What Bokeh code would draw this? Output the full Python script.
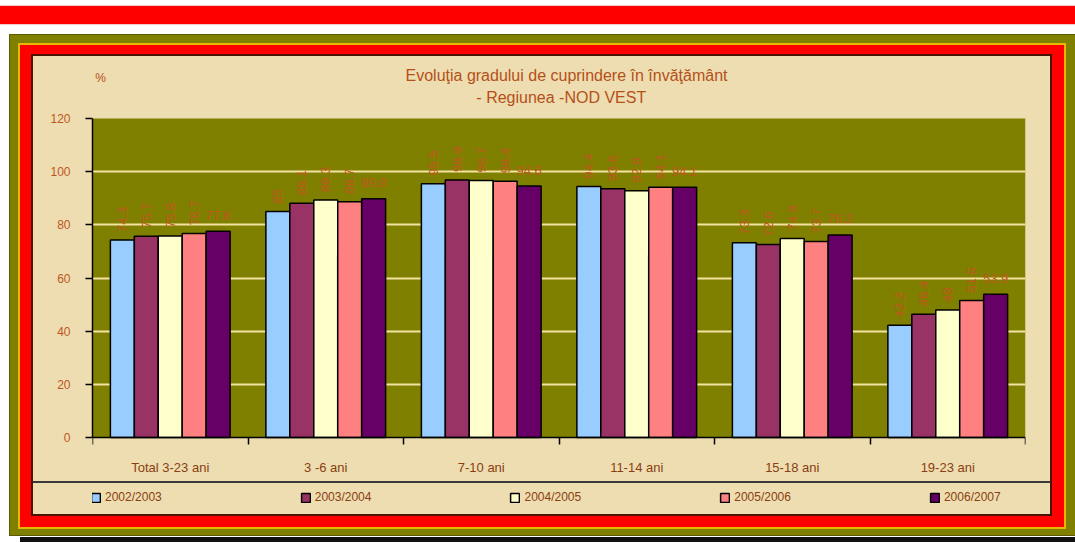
import numpy as np
from bokeh.plotting import figure
from bokeh.models import (Range1d, FixedTicker, BoxAnnotation, Label, Legend, LegendItem)
from bokeh.core.properties import value
from bokeh.embed import file_html
from bokeh.resources import INLINE

# ---------------- data ----------------
categories = ["Total 3-23 ani", "3 -6 ani", "7-10 ani", "11-14 ani", "15-18 ani", "19-23 ani"]
series_names = ["2002/2003", "2003/2004", "2004/2005", "2005/2006", "2006/2007"]
v_2002_2003 = [74.3, 85, 95.5, 94.4, 73.3, 42.2]
v_2003_2004 = [75.7, 88.1, 96.9, 93.6, 72.6, 46.4]
v_2004_2005 = [75.8, 89.3, 96.7, 92.8, 74.9, 48]
v_2005_2006 = [76.7, 88.7, 96.4, 94.1, 73.7, 51.5]
v_2006_2007 = [77.6, 89.8, 94.6, 94.1, 76.2, 53.9]
y_ticks = [0, 20, 40, 60, 80, 100, 120]
grid_ticks = [20, 40, 60, 80, 100]
title_line1 = "Evoluţia gradului de cuprindere în învăţământ"
title_line2 = "- Regiunea  -NOD VEST"
y_unit = "%"

series_values = [v_2002_2003, v_2003_2004, v_2004_2005, v_2005_2006, v_2006_2007]
colors = ["#99CCFF", "#993366", "#FFFFCC", "#FF8080", "#660066"]

FONT = "Liberation Sans"
LABEL_COL = "#C0561F"
TEXT_COL = "#8A3E12"
TITLE_COL = "#B5501A"
PAPYRUS = "#EDDDB0"

# canvas geometry (px)
W, H = 1075, 542
FL, FR, FT, FB = 92, 1025, 60, 514     # frame covers the papyrus height
Y0, Y120 = 437, 118                    # canvas y of value 0 and value 120
PX_PER_UNIT = (Y0 - Y120) / y_ticks[-1]
y_lo = -(FB - Y0) / PX_PER_UNIT
y_hi = (Y0 - FT) / PX_PER_UNIT


def rect(color, x, y, w, h):
    return f"linear-gradient({color},{color}) {x}px {y}px / {w}px {h}px no-repeat"


# decorative frame painted behind the (transparent) canvas
bg = ", ".join([
    rect("#3A3A3A", 33, 481, 1017, 2),      # legend separator
    rect(PAPYRUS, 33, 56, 1017, 458),       # papyrus panel
    rect("#4A1500", 31, 54, 1021, 462),     # dark inner line
    rect("#FF0000", 20, 45, 1044, 482),     # red frame
    rect("#E8B800", 18, 43, 1048, 486),     # yellow line
    rect("#808000", 10, 35, 1065, 500),     # olive frame
    rect("#5A5A00", 9, 34, 1066, 502),      # olive dark edge
    rect("#111111", 20, 537, 1055, 5),      # drop shadow
    rect("#FF0000", 0, 6, 1075, 18),        # red top bar
    rect("#F8C8C8", 0, 5, 1075, 20),        # soft edge of red bar
]) + ", #FFFFFF"

p = figure(width=W, height=H, output_backend="svg", toolbar_location=None,
           x_range=Range1d(0, len(categories)), y_range=Range1d(y_lo, y_hi),
           min_border_left=FL, min_border_right=W - FR,
           min_border_top=FT, min_border_bottom=H - FB,
           background_fill_color=None, border_fill_color=None)
p.styles = {"background": bg}
p.outline_line_color = None

# olive plot area (0..120)
p.add_layout(BoxAnnotation(bottom=y_ticks[0], top=y_ticks[-1], fill_color="#808000",
                           fill_alpha=1, line_alpha=0, level="image"))

# ---------------- axes ----------------
xa = p.xaxis[0]
xa.fixed_location = y_ticks[0]
xa.ticker = FixedTicker(ticks=[i + 0.5 for i in range(len(categories))],
                        minor_ticks=list(range(len(categories) + 1)))
xa.major_label_overrides = {i + 0.5: c for i, c in enumerate(categories)}
xa.major_tick_out = 0
xa.major_tick_in = 0
xa.minor_tick_out = 7
xa.minor_tick_in = 0
xa.minor_tick_line_color = "black"
xa.minor_tick_line_width = 1.5
xa.axis_line_color = "black"
xa.axis_line_width = 1.5
xa.major_label_standoff = 15
xa.major_label_text_font = FONT
xa.major_label_text_font_size = "13px"
xa.major_label_text_color = TEXT_COL

ya = p.yaxis[0]
ya.ticker = FixedTicker(ticks=y_ticks)
ya.bounds = (y_ticks[0], y_ticks[-1])
ya.major_tick_out = 7
ya.major_tick_in = 0
ya.minor_tick_out = 0
ya.minor_tick_in = 0
ya.major_tick_line_color = "black"
ya.major_tick_line_width = 1.5
ya.axis_line_color = "black"
ya.axis_line_width = 1.5
ya.major_label_standoff = 15
ya.major_label_text_font = FONT
ya.major_label_text_font_size = "12px"
ya.major_label_text_color = LABEL_COL

p.xgrid.visible = False
p.ygrid.ticker = FixedTicker(ticks=grid_ticks)
p.ygrid.grid_line_color = "#F3E3A2"
p.ygrid.grid_line_width = 2

# ---------------- bars & labels ----------------
bw = 0.154
n = len(series_names)
items = []
for j, (name, vals) in enumerate(zip(series_names, series_values)):
    xs = [i + 0.5 + (j - (n - 1) / 2) * bw for i in range(len(categories))]
    r = p.vbar(x=xs, top=vals, width=bw, fill_color=colors[j],
               line_color="black", line_width=1.5)
    items.append(LegendItem(label=name, renderers=[r]))
    texts = [f"{v:g}" for v in vals]
    if j < n - 1:
        p.text(x=xs, y=vals, text=texts, angle=np.pi / 2, text_align="left",
               text_baseline="alphabetic", y_offset=-8,
               text_font=value(FONT), text_font_size="13px", text_color=LABEL_COL)
    else:
        p.text(x=xs, y=vals, text=texts, text_align="center",
               text_baseline="alphabetic", y_offset=-16,
               text_font=value(FONT), text_font_size="13px", text_color=LABEL_COL)

legend = Legend(items=items, orientation="horizontal", location=(-2, 10),
                spacing=138, glyph_width=11, glyph_height=11, label_standoff=4,
                padding=0, margin=0, border_line_alpha=0, background_fill_alpha=0,
                label_text_font=FONT, label_text_font_size="12px",
                label_text_color=TEXT_COL)
p.add_layout(legend)

# ---------------- titles (inside the frame, above the plot area) ----------------
def ydata(canvas_y):
    return (Y0 - canvas_y) / PX_PER_UNIT

def xdata(canvas_x):
    return (canvas_x - FL) / ((FR - FL) / len(categories))

p.add_layout(Label(x=xdata(566), y=ydata(75), text=title_line1,
                   text_align="center", text_baseline="middle", text_font=FONT,
                   text_font_size="16px", text_color=TITLE_COL))
p.add_layout(Label(x=xdata(563), y=ydata(97), text=title_line2,
                   text_align="center", text_baseline="middle", text_font=FONT,
                   text_font_size="16px", text_color=TITLE_COL))
p.add_layout(Label(x=xdata(100), y=ydata(77), text=y_unit,
                   text_align="center", text_baseline="middle", text_font=FONT,
                   text_font_size="12px", text_color=TITLE_COL))

open("out.html", "w").write(file_html(p, INLINE))
